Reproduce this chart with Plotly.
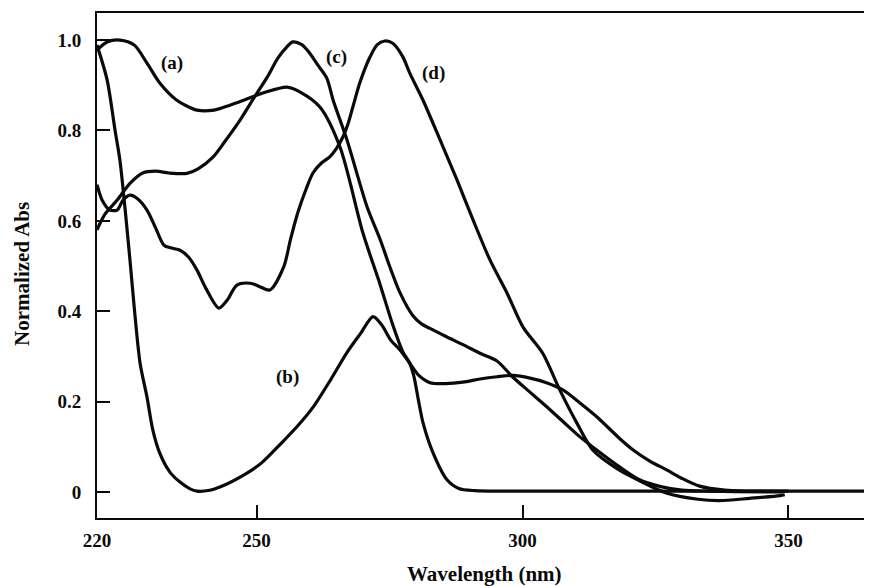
import plotly.graph_objects as go

# ---- data ----
wl_a = [220, 221.9, 224.3, 227, 229.4, 231.8, 235, 238.8, 242, 245, 247.6, 251.5, 255.7, 258.2,
        261.9, 265.7, 270, 273.2, 275.6, 277.5, 278.8, 279.6, 280.4, 281.3, 283.2, 285.8,
        288, 291, 300, 320, 340, 366]
abs_a = [0.978, 0.996, 1.0, 0.989, 0.949, 0.905, 0.867, 0.845, 0.845, 0.856, 0.867, 0.884, 0.896, 0.885,
         0.852, 0.763, 0.573, 0.46, 0.37, 0.31, 0.285, 0.255, 0.205, 0.153, 0.086, 0.027,
         0.008, 0.003, 0.002, 0.002, 0.002, 0.002]

wl_b = [220, 221.9, 223.4, 224.3, 225.3, 226.2, 227.1, 228.1, 229.4, 230.5, 231.8, 233.7, 235.6,
        237.5, 238.8, 241.2, 243.1, 248.2, 251, 254.4, 258, 260.7, 264, 266.9, 269.5, 271.9, 273.5,
        275.3, 277, 278.8, 280.5, 282.6, 285.5, 288.8, 292, 295.2, 298.2, 301.4, 304.5, 307.6, 310.8,
        314, 318.3, 320.8, 324, 327.1, 330, 333.3, 338, 342, 350]
abs_b = [0.989, 0.912, 0.80, 0.735, 0.624, 0.513, 0.396, 0.285, 0.21, 0.137, 0.086, 0.044, 0.022,
         0.007, 0.002, 0.004, 0.011, 0.042, 0.065, 0.105, 0.15, 0.189, 0.25, 0.307, 0.35, 0.388, 0.37,
         0.335, 0.314, 0.285, 0.258, 0.242, 0.24, 0.243, 0.25, 0.255, 0.258, 0.252, 0.242, 0.226, 0.197,
         0.166, 0.118, 0.093, 0.068, 0.049, 0.03, 0.013, 0.004, 0.002, 0.002]

wl_c = [220, 221.5, 223.8, 226.2, 228.6, 231, 233.5, 236.9, 239, 241.8, 244, 246.9, 249.5, 252,
        254, 255.7, 256.8, 258.5, 260, 261.5, 263.2, 264.4, 267, 270.8, 273.2, 275, 277, 279.4,
        281, 282.6, 285.8, 289, 292, 295.2, 298.2, 301.5, 304.6, 307.7, 310.8, 314.5, 318.3, 322,
        326, 330, 335, 340, 349]
abs_c = [0.58, 0.615, 0.646, 0.683, 0.706, 0.71, 0.706, 0.705, 0.715, 0.741, 0.775, 0.823, 0.872, 0.918,
         0.96, 0.985, 0.996, 0.99, 0.971, 0.945, 0.916, 0.867, 0.779, 0.63, 0.56, 0.5, 0.44, 0.39,
         0.372, 0.362, 0.343, 0.325, 0.307, 0.29, 0.254, 0.22, 0.188, 0.155, 0.122, 0.088, 0.055, 0.027,
         0.012, 0.004, 0.002, 0.001, 0.0]

wl_d = [220, 221, 222.4, 223.8, 224.9, 226.2, 227.5, 229.4, 231, 232.6, 234, 235.6, 237.2, 238.8,
        240.5, 242.9, 244.5, 246.3, 248.8, 250.5, 252.5, 255.1, 256.4, 257.8, 259.3, 260.6, 262.2,
        263.8, 265, 266.2, 267.2, 268.1, 269.4, 271.3, 272.7, 274.1, 275.6, 277.5, 278.8, 281.3,
        284.5, 287.7, 290.7, 293.9, 297.1, 300.1, 303.8, 307, 310.2, 313.2, 318, 322, 327, 333, 337,
        342.7, 348.4, 349.3]
abs_d = [0.68, 0.645, 0.624, 0.624, 0.646, 0.657, 0.65, 0.624, 0.585, 0.546, 0.54, 0.535, 0.52, 0.491,
         0.45, 0.407, 0.425, 0.458, 0.462, 0.455, 0.447, 0.498, 0.56, 0.62, 0.67, 0.706, 0.728,
         0.742, 0.76, 0.785, 0.815, 0.852, 0.905, 0.962, 0.99, 0.998, 0.993, 0.963, 0.927, 0.867,
         0.779, 0.69, 0.602, 0.513, 0.44, 0.365, 0.307, 0.226, 0.153, 0.093, 0.05, 0.025, -0.002,
         -0.016, -0.019, -0.014, -0.008, -0.006]

x_ticks = [220, 250, 300, 350]
x_ticktext = ["220", "250", "300", "350"]
y_ticks = [0, 0.2, 0.4, 0.6, 0.8, 1.0]
y_ticktext = ["0", "0.2", "0.4", "0.6", "0.8", "1.0"]

curve_labels = ["(a)", "(b)", "(c)", "(d)"]
label_x = [234.1, 255.9, 265.1, 283.2]
label_y = [0.949, 0.254, 0.962, 0.927]

# ---- figure ----
SERIF = "Liberation Serif, Times New Roman, serif"
INK = "#0a0a0a"

fig = go.Figure()
for xs, ys in [(wl_a, abs_a), (wl_b, abs_b), (wl_c, abs_c), (wl_d, abs_d)]:
    fig.add_trace(go.Scatter(x=xs, y=ys, mode="lines",
                             line=dict(color=INK, width=3.2, shape="spline", smoothing=0.8),
                             showlegend=False, hoverinfo="skip"))

for t, lx, ly in zip(curve_labels, label_x, label_y):
    fig.add_annotation(x=lx, y=ly, text=t, showarrow=False, xref="x", yref="y",
                       font=dict(family=SERIF, size=19, color=INK, weight="bold"))

fig.add_annotation(x=0.5046, y=-0.111, xref="paper", yref="paper", text="Wavelength (nm)",
                   showarrow=False, yanchor="middle",
                   font=dict(family=SERIF, size=21, color=INK, weight="bold"))
fig.add_annotation(x=-0.098, y=0.483, xref="paper", yref="paper", text="Normalized Abs",
                   showarrow=False, textangle=-90, xanchor="center", yanchor="middle",
                   font=dict(family=SERIF, size=21, color=INK, weight="bold"))

fig.update_xaxes(range=[220, 364.2], tickvals=x_ticks, ticktext=x_ticktext,
                 ticks="inside", ticklen=13, tickwidth=1.5, tickcolor=INK,
                 showline=True, linecolor=INK, linewidth=2, mirror=True,
                 showgrid=False, zeroline=False, ticklabelstandoff=4, automargin=False,
                 tickfont=dict(family=SERIF, size=19, color=INK, weight="bold"))
fig.update_yaxes(range=[-0.0575, 1.06], tickvals=y_ticks, ticktext=y_ticktext,
                 ticks="inside", ticklen=13, tickwidth=1.5, tickcolor=INK,
                 showline=True, linecolor=INK, linewidth=2, mirror=False,
                 showgrid=False, zeroline=False, ticklabelstandoff=10, automargin=False,
                 tickfont=dict(family=SERIF, size=19, color=INK, weight="bold"))

fig.update_layout(width=856, height=578, margin=dict(l=89, r=0, t=5, b=68, autoexpand=False),
                  paper_bgcolor="white", plot_bgcolor="white")

fig.write_html("out.html")
